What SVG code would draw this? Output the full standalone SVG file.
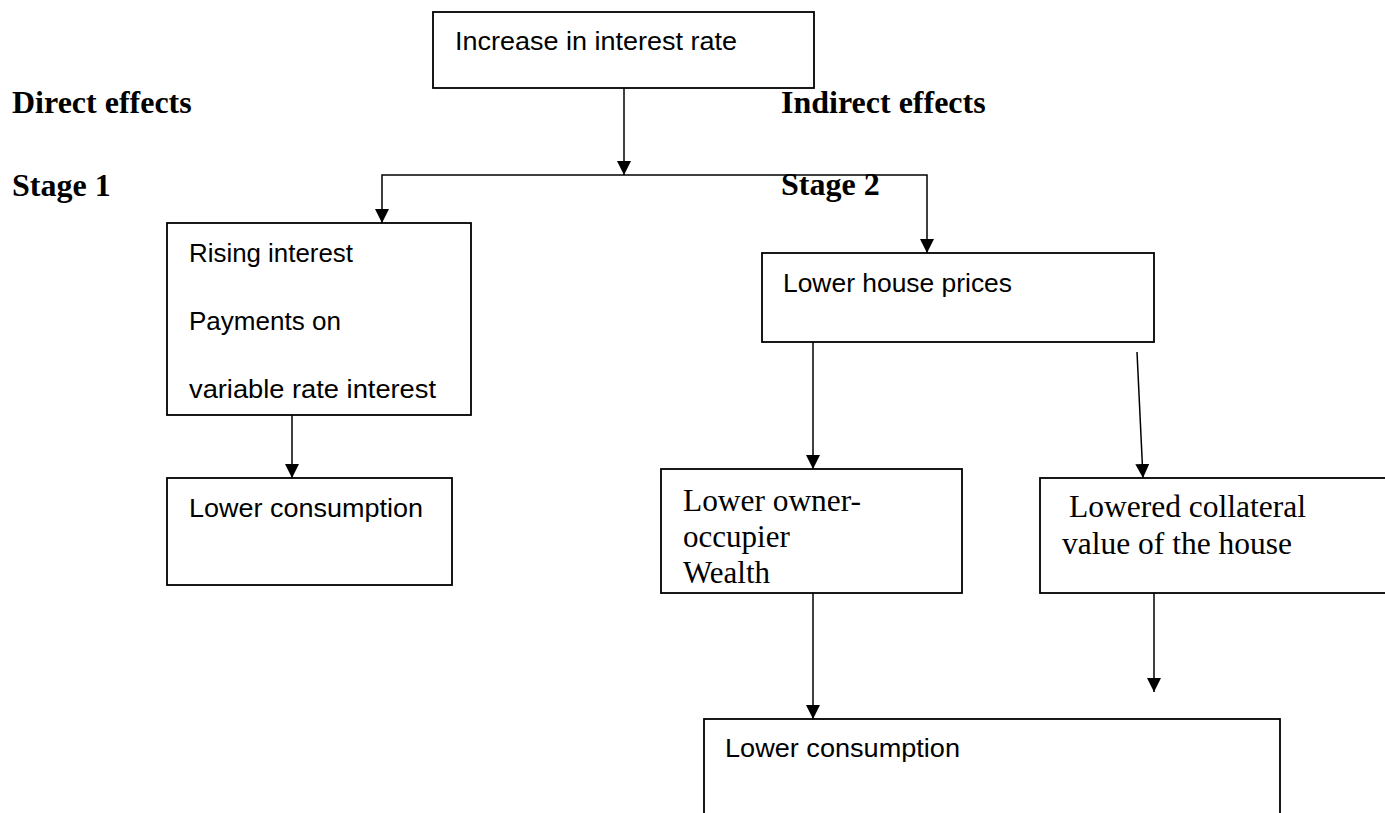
<svg xmlns="http://www.w3.org/2000/svg" width="1385" height="813" viewBox="0 0 1385 813">
<style>
.box{fill:#fff;stroke:#000;stroke-width:1.8}
.ln{fill:none;stroke:#000;stroke-width:1.5}
.sans{font-family:"Liberation Sans",Arial,sans-serif;font-size:25px;fill:#000}
.serif{font-family:"Liberation Serif","Times New Roman",serif;font-size:31px;fill:#000}
.hd{font-family:"Liberation Serif","Times New Roman",serif;font-size:32px;font-weight:bold;fill:#000}
</style>
<defs>
<marker id="ah" viewBox="0 0 14 14" refX="14" refY="7" markerWidth="14" markerHeight="14" markerUnits="userSpaceOnUse" orient="auto">
<path d="M0,0 L14,7 L0,14 Z" fill="#000"/>
</marker>
</defs>
<rect width="1385" height="813" fill="#fff"/>
<g id="labels">
<text class="hd" x="12" y="113">Direct effects</text>
<text class="hd" x="12" y="196">Stage 1</text>
<text class="hd" x="781" y="113">Indirect effects</text>
</g>
<g id="connectors">
<line class="ln" x1="624" y1="88" x2="624" y2="175" marker-end="url(#ah)"/>
<polyline class="ln" points="624,175 382,175 382,223" marker-end="url(#ah)"/>
<polyline class="ln" points="624,175 927,175 927,253" marker-end="url(#ah)"/>
<line class="ln" x1="292" y1="415" x2="292" y2="478" marker-end="url(#ah)"/>
<line class="ln" x1="813" y1="342" x2="813" y2="469" marker-end="url(#ah)"/>
<line class="ln" x1="1137" y1="352" x2="1143" y2="478" marker-end="url(#ah)"/>
<line class="ln" x1="813" y1="593" x2="813" y2="719" marker-end="url(#ah)"/>
<line class="ln" x1="1154" y1="593" x2="1154" y2="692" marker-end="url(#ah)"/>
</g>
<g id="stage2">
<text class="hd" x="781" y="195">Stage 2</text>
</g>
<g id="n-increase">
<rect class="box" x="433" y="12" width="381" height="76"/>
<text class="sans" x="455" y="50" textLength="282" lengthAdjust="spacingAndGlyphs">Increase in interest rate</text>
</g>
<g id="n-rising">
<rect class="box" x="167" y="223" width="304" height="192"/>
<text class="sans" x="189" y="262" textLength="164" lengthAdjust="spacingAndGlyphs">Rising interest</text>
<text class="sans" x="189" y="330" textLength="152" lengthAdjust="spacingAndGlyphs">Payments on</text>
<text class="sans" x="189" y="398" textLength="247" lengthAdjust="spacingAndGlyphs">variable rate interest</text>
</g>
<g id="n-lowcons1">
<rect class="box" x="167" y="478" width="285" height="107"/>
<text class="sans" x="189" y="517" textLength="234" lengthAdjust="spacingAndGlyphs">Lower consumption</text>
</g>
<g id="n-house">
<rect class="box" x="762" y="253" width="392" height="89"/>
<text class="sans" x="783" y="292" textLength="229" lengthAdjust="spacingAndGlyphs">Lower house prices</text>
</g>
<g id="n-owner">
<rect class="box" x="661" y="469" width="301" height="124"/>
<text class="serif" x="683" y="511" textLength="178" lengthAdjust="spacingAndGlyphs">Lower owner-</text>
<text class="serif" x="683" y="547">occupier</text>
<text class="serif" x="683" y="583">Wealth</text>
</g>
<g id="n-collateral">
<rect class="box" x="1040" y="478" width="352" height="115"/>
<text class="serif" x="1069" y="517" textLength="237" lengthAdjust="spacingAndGlyphs">Lowered collateral</text>
<text class="serif" x="1062" y="554" textLength="230" lengthAdjust="spacingAndGlyphs">value of the house</text>
</g>
<g id="n-lowcons2">
<rect class="box" x="704" y="719" width="576" height="110"/>
<text class="sans" x="725" y="757" textLength="235" lengthAdjust="spacingAndGlyphs">Lower consumption</text>
</g>
</svg>
